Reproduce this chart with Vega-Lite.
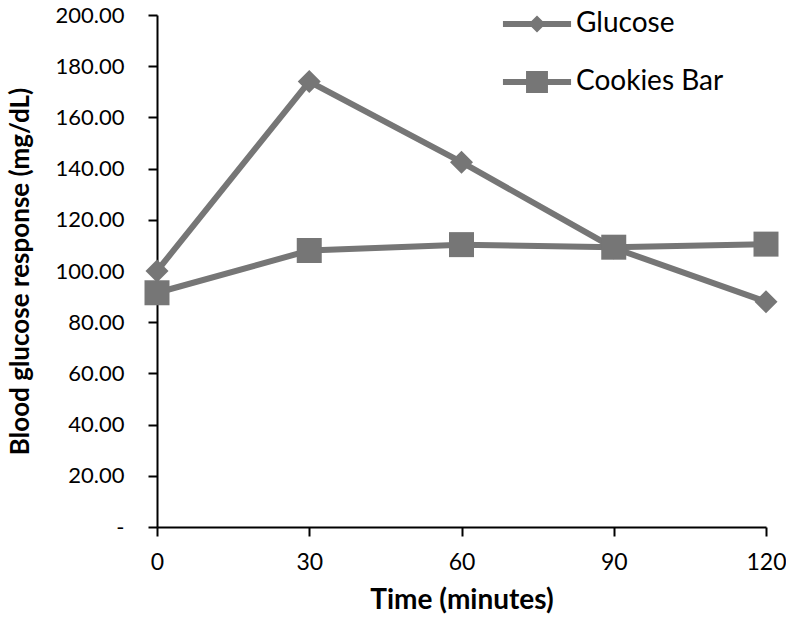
{
  "$schema": "https://vega.github.io/schema/vega-lite/v6.json",
  "width": 609,
  "height": 512,
  "autosize": {"type": "none"},
  "padding": {"left": 157, "top": 15, "right": 20, "bottom": 93},
  "background": "white",
  "config": {
    "view": {"stroke": null},
    "font": "Lato",
    "axis": {"grid": false, "domainColor": "#000000", "tickColor": "#000000", "domainWidth": 2, "tickWidth": 2, "labelColor": "#000000", "titleColor": "#000000", "labelFont": "Lato", "titleFont": "Lato"}
  },
  "data": {
    "values": [
      {"time": 0, "series": "Glucose", "value": 100},
      {"time": 30, "series": "Glucose", "value": 174},
      {"time": 60, "series": "Glucose", "value": 142.5},
      {"time": 90, "series": "Glucose", "value": 109},
      {"time": 120, "series": "Glucose", "value": 88},
      {"time": 0, "series": "Cookies Bar", "value": 91.5},
      {"time": 30, "series": "Cookies Bar", "value": 108},
      {"time": 60, "series": "Cookies Bar", "value": 110.3},
      {"time": 90, "series": "Cookies Bar", "value": 109.3},
      {"time": 120, "series": "Cookies Bar", "value": 110.5}
    ]
  },
  "encoding": {
    "x": {
      "field": "time", "type": "quantitative",
      "scale": {"domain": [0, 120], "nice": false, "zero": false},
      "axis": {"values": [0, 30, 60, 90, 120], "title": "Time (minutes)", "titleFontSize": 28, "titleFontWeight": "bold", "titlePadding": 12, "labelFontSize": 23, "tickSize": 9, "labelPadding": 15, "labelFlush": false}
    },
    "y": {
      "field": "value", "type": "quantitative",
      "scale": {"domain": [0, 200], "nice": false},
      "axis": {"values": [0, 20, 40, 60, 80, 100, 120, 140, 160, 180, 200], "labelExpr": "datum.value == 0 ? '-' : format(datum.value, '.2f')", "title": "Blood glucose response (mg/dL)", "titleFontSize": 26, "titleFontWeight": "bold", "titlePadding": 22, "labelFontSize": 22, "tickSize": 9, "labelPadding": 24}
    }
  },
  "layer": [
    {
      "mark": {"type": "line", "strokeWidth": 6, "color": "#767676"},
      "encoding": {"detail": {"field": "series"}}
    },
    {
      "transform": [{"filter": "datum.series == 'Glucose'"}],
      "mark": {"type": "point", "filled": true, "opacity": 1, "color": "#767676", "strokeWidth": 0, "size": 529, "shape": "diamond"}
    },
    {
      "transform": [{"filter": "datum.series == 'Cookies Bar'"}],
      "mark": {"type": "point", "filled": true, "opacity": 1, "color": "#767676", "strokeWidth": 0, "size": 625, "shape": "square"}
    },
    {
      "transform": [{"filter": "datum.time < 0"}],
      "mark": {"type": "point", "filled": true, "color": "#767676", "strokeWidth": 0},
      "encoding": {
        "shape": {
          "field": "series", "type": "nominal",
          "scale": {"domain": ["Glucose", "Cookies Bar"], "range": ["M-2.27,-0.2H2.27V0.2H-2.27Z M0,-0.57L0.57,0L0,0.57L-0.57,0Z", "M-2.27,-0.2H2.27V0.2H-2.27Z M-0.73,-0.73H0.73V0.73H-0.73Z"]},
          "legend": {
            "title": null,
            "orient": "none",
            "legendX": 365,
            "legendY": -6,
            "padding": 0,
            "symbolSize": 900,
            "symbolFillColor": "#767676",
            "symbolStrokeColor": "#767676",
            "symbolStrokeWidth": 0,
            "symbolOpacity": 1,
            "labelFontSize": 28,
            "labelFont": "Lato",
            "labelColor": "#000000",
            "labelOffset": 24,
            "rowPadding": 29
          }
        }
      }
    }
  ]
}
